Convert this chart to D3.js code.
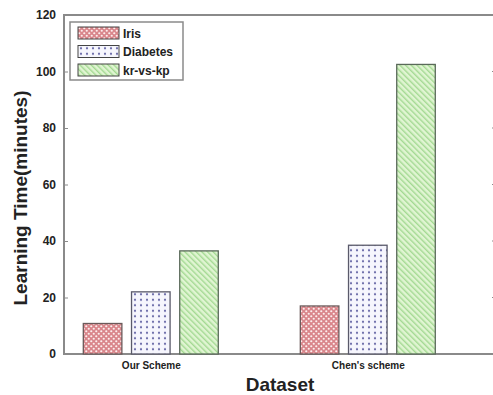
<!DOCTYPE html>
<html>
<head>
<meta charset="utf-8">
<script src="https://cdn.jsdelivr.net/npm/d3@7"></script>
<style>
  body { margin: 0; background: #fff; }
  text { font-family: "Liberation Sans", Arial, sans-serif; }
</style>
</head>
<body>
<svg width="493" height="395"></svg>
<script>
// Data
const schemes = ["Our Scheme", "Chen's scheme"];
const datasets = ["Iris", "Diabetes", "kr-vs-kp"];
const iris = [10.8, 17];
const diabetes = [22, 38.5];
const krvskp = [36.5, 102.5];
const yTicks = [0, 20, 40, 60, 80, 100, 120];

const seriesValues = [iris, diabetes, krvskp];

const svg = d3.select("svg");
const defs = svg.append("defs");

// Patterns for each series
const pIris = defs.append("pattern").attr("id", "p0").attr("patternUnits", "userSpaceOnUse")
  .attr("width", 5).attr("height", 5);
pIris.append("rect").attr("width", 5).attr("height", 5).attr("fill", "#d9868b");
pIris.append("circle").attr("cx", 1.25).attr("cy", 1.25).attr("r", 1.1).attr("fill", "#fdeeee");
pIris.append("circle").attr("cx", 3.75).attr("cy", 3.75).attr("r", 1.1).attr("fill", "#fdeeee");

const pDia = defs.append("pattern").attr("id", "p1").attr("patternUnits", "userSpaceOnUse")
  .attr("width", 6).attr("height", 5.5);
pDia.append("rect").attr("width", 6).attr("height", 5.5).attr("fill", "#f6f6fd");
pDia.append("circle").attr("cx", 3).attr("cy", 2.75).attr("r", 1.1).attr("fill", "#6a6aa8");

const pKr = defs.append("pattern").attr("id", "p2").attr("patternUnits", "userSpaceOnUse")
  .attr("width", 4).attr("height", 4).attr("patternTransform", "rotate(-45)");
pKr.append("rect").attr("width", 4).attr("height", 4).attr("fill", "#e0f5d2");
pKr.append("rect").attr("x", 0).attr("width", 1.4).attr("height", 4).attr("fill", "#a3d992");

const fills = ["url(#p0)", "url(#p1)", "url(#p2)"];
const strokes = ["#6a5a5a", "#5a5a6a", "#5a6a5a"];

// Plot area, the right spine falls just outside the image
const plotLeft = 64, plotRight = 498, plotTop = 15, plotBottom = 354;

const x = d3.scaleLinear().domain([0.6, 2.6]).range([plotLeft, plotRight]);
const y = d3.scaleLinear().domain([0, 120]).range([plotBottom, plotTop]);

// offsets of each bar inside a group, in x units
const sub = d3.scaleBand().domain(datasets).range([-0.311, 0.311]).paddingInner(0.2);

// Frame
svg.append("rect")
  .attr("x", plotLeft).attr("y", plotTop)
  .attr("width", plotRight - plotLeft).attr("height", plotBottom - plotTop)
  .attr("fill", "none").attr("stroke", "#8a8a8a").attr("stroke-width", 2);

// Bars
const groups = svg.selectAll("g.scheme")
  .data(schemes)
  .enter()
  .append("g")
  .attr("class", "scheme");

groups.selectAll("rect")
  .data((d, i) => datasets.map((name, k) => ({ name, k, pos: i + 1, v: seriesValues[k][i] })))
  .enter()
  .append("rect")
  .attr("x", d => x(d.pos + sub(d.name)))
  .attr("width", d => x(d.pos + sub(d.name) + sub.bandwidth()) - x(d.pos + sub(d.name)))
  .attr("y", d => y(d.v))
  .attr("height", d => y(0) - y(d.v))
  .attr("fill", d => fills[d.k])
  .attr("stroke", d => strokes[d.k])
  .attr("stroke-width", 1.3);

// Left axis
const yAxis = svg.append("g")
  .attr("transform", `translate(${plotLeft},0)`)
  .call(d3.axisLeft(y).tickValues(yTicks).tickSize(-4).tickPadding(8));
yAxis.select(".domain").remove();
yAxis.selectAll("line").attr("stroke", "#8a8a8a");
yAxis.selectAll("text")
  .attr("font-size", 12).attr("font-weight", "bold").attr("fill", "#222")
  .attr("font-family", "'Liberation Sans Narrow', 'Liberation Sans', sans-serif");

// Right side ticks (the spine itself is cut off)
svg.append("g")
  .selectAll("line")
  .data(yTicks.slice(1, -1))
  .enter()
  .append("line")
  .attr("x1", plotRight).attr("x2", plotRight - 6)
  .attr("y1", d => y(d)).attr("y2", d => y(d))
  .attr("stroke", "#8a8a8a");

// Bottom axis labels
const xAxis = svg.append("g")
  .attr("transform", `translate(0,${plotBottom})`)
  .call(d3.axisBottom(x).tickValues([1, 2]).tickFormat((d, i) => schemes[i]).tickSize(0).tickPadding(8));
xAxis.select(".domain").remove();
xAxis.selectAll("text")
  .attr("font-size", 10).attr("font-weight", "bold").attr("fill", "#222")
  .attr("font-family", "'DejaVu Sans', sans-serif");

// Axis titles
svg.append("text")
  .attr("x", 280).attr("y", 391)
  .attr("text-anchor", "middle")
  .attr("font-size", 19).attr("font-weight", "bold").attr("fill", "#222")
  .text("Dataset");

svg.append("text")
  .attr("transform", "translate(27,198) rotate(-90)")
  .attr("text-anchor", "middle")
  .attr("font-size", 19).attr("font-weight", "bold").attr("fill", "#222")
  .text("Learning Time(minutes)");

// Legend
const legend = svg.append("g").attr("transform", "translate(70,22)");
legend.append("rect")
  .attr("width", 113).attr("height", 58)
  .attr("fill", "#fff").attr("stroke", "#8a8a8a").attr("stroke-width", 1.5);

const items = legend.selectAll("g.item")
  .data(datasets)
  .enter()
  .append("g")
  .attr("class", "item")
  .attr("transform", (_d, i) => `translate(8, ${5 + i * 18.5})`);

items.append("rect")
  .attr("width", 41).attr("height", 12)
  .attr("fill", (_d, i) => fills[i])
  .attr("stroke", "#444").attr("stroke-width", 1);

items.append("text")
  .attr("x", 45).attr("y", 10.5)
  .attr("font-size", 12).attr("font-weight", "bold").attr("fill", "#222")
  .attr("font-family", "'Liberation Sans Narrow', 'Liberation Sans', sans-serif")
  .text(d => d);
</script>
</body>
</html>
